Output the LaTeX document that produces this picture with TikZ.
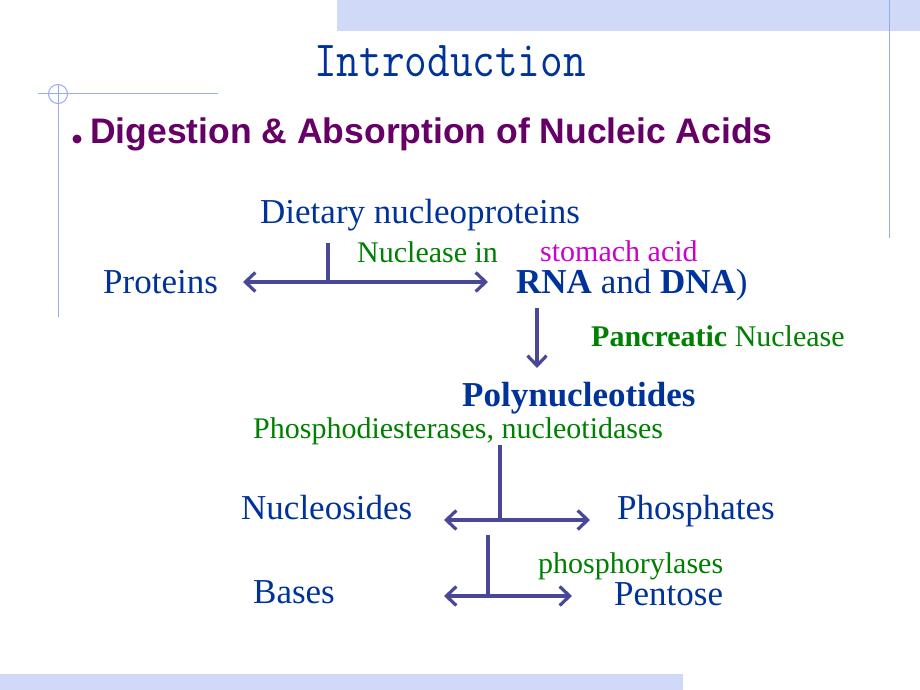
\documentclass[tikz,border=0pt]{standalone}
\usepackage{fontspec}
\usepackage{graphicx}
\setmainfont{Liberation Serif}
\newfontfamily\headfont{Liberation Sans}
\usetikzlibrary{arrows.meta}
\definecolor{txtblue}{RGB}{0,51,153}
\definecolor{enzgreen}{RGB}{0,128,0}
\definecolor{acidpink}{RGB}{204,0,204}
\definecolor{headpurple}{RGB}{102,0,102}
\definecolor{flowblue}{RGB}{72,72,150}
\definecolor{lineblue}{RGB}{150,170,240}
\definecolor{bandblue}{RGB}{208,218,248}
\tikzset{
  mol/.style={text=txtblue, inner sep=0pt, anchor=base west, font=\fontsize{35}{35}\selectfont},
  enz/.style={text=enzgreen, inner sep=0pt, anchor=base west, font=\fontsize{30}{30}\selectfont},
  flow/.style={draw=flowblue, line width=3.2pt},
  oneway/.style={flow, -{Straight Barb[length=10pt,width=19pt]}},
  twoway/.style={flow, {Straight Barb[length=10pt,width=19pt]}-{Straight Barb[length=10pt,width=19pt]}},
}
\begin{document}
\begin{tikzpicture}[x=1pt, y=-1pt]
  \useasboundingbox (0,0) rectangle (920,690);
  \fill[bandblue] (337,0) rectangle (920,31);
  \fill[bandblue] (0,674) rectangle (683,690);
  \draw[lineblue, line width=1pt] (889,0) -- (889,238);
  \draw[lineblue, line width=1pt] (58,85) -- (58,317);
  \draw[lineblue, line width=1pt] (38,94) -- (218,94);
  \draw[lineblue, line width=1pt] (58,94) circle (9.5);

  \node[text=txtblue, inner sep=0pt, anchor=base, font=\fontsize{44}{44}\selectfont\ttfamily] (title) at (450,77) {\scalebox{1}[1.15]{Introduction}};
  \fill[headpurple] (77,139) circle (4.5);
  \node[text=headpurple, inner sep=0pt, anchor=base west, font=\fontsize{35.5}{35.5}\selectfont\headfont\bfseries] (heading) at (90,143) {Digestion \& Absorption of Nucleic Acids};

  \node[mol] (diet) at (260,223) {Dietary nucleoproteins};
  \node[enz] (nucl) at (357,262) {Nuclease in};
  \node[enz, text=acidpink] (acid) at (540,261) {stomach acid};
  \node[mol] (prot) at (103,293) {Proteins};
  \node[mol] (rna) at (516,293) {\textbf{RNA} and \textbf{DNA})};
  \node[enz] (panc) at (591,346) {\textbf{Pancreatic} Nuclease};
  \node[mol] (poly) at (462,406) {\textbf{Polynucleotides}};
  \node[enz] (phde) at (253,438) {Phosphodiesterases, nucleotidases};
  \node[mol] (nsid) at (241,519) {Nucleosides};
  \node[mol] (phos) at (617,519) {Phosphates};
  \node[enz] (phlase) at (538,573) {phosphorylases};
  \node[mol] (bases) at (253,603) {Bases};
  \node[mol] (pent) at (614,605) {Pentose};

  \coordinate (dietstem) at (328,243);
  \coordinate (dietfork) at (328,282);
  \coordinate (protend) at (243,282);
  \coordinate (rnaend) at (488,282);
  \coordinate (rnadown) at (537,308);
  \coordinate (polyend) at (537,368);
  \coordinate (polystem) at (500,445);
  \coordinate (polyfork) at (500,520);
  \coordinate (nsidend) at (444,520);
  \coordinate (phosend) at (590,520);
  \coordinate (nsidstem) at (488,535);
  \coordinate (nsidfork) at (488,596);
  \coordinate (basesend) at (444,596);
  \coordinate (pentend) at (572,596);

  \draw[flow] (dietstem) -- (dietfork);
  \draw[twoway] (protend) -- (rnaend);
  \draw[oneway] (rnadown) -- (polyend);
  \draw[flow] (polystem) -- (polyfork);
  \draw[twoway] (nsidend) -- (phosend);
  \draw[flow] (nsidstem) -- (nsidfork);
  \draw[twoway] (basesend) -- (pentend);
\end{tikzpicture}
\end{document}
